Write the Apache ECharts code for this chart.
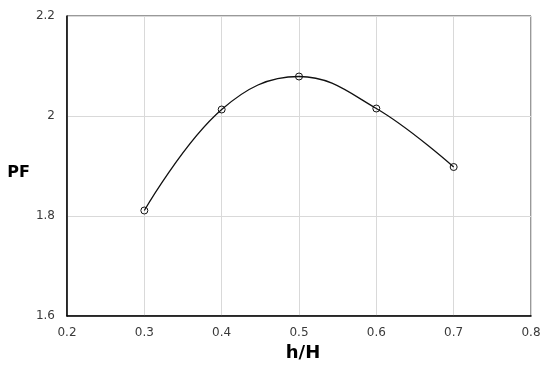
<!DOCTYPE html>
<html lang="en">

<head>
  <meta charset="UTF-8">
  <title>PF vs h/H</title>
  <script src="https://cdn.jsdelivr.net/npm/echarts@6/dist/echarts.min.js"></script>
</head>

<body style="margin: 0">
  <div id="main" style="width: 550px; height: 369px"></div>

  <script>
    let hH = [0.3, 0.4, 0.5, 0.6, 0.7]
    let pf = [1.811, 2.013, 2.079, 2.015, 1.898]

    let myChart = echarts.init(document.getElementById('main'))
    let labelStyle = { color: '#3a3a3a', fontSize: 12, fontFamily: 'DejaVu Sans' }

    let option = {
      animation: false,
      grid: {
        left: 67, right: 19, top: 16, bottom: 53,
        show: true, borderColor: '#333', borderWidth: 1
      },
      xAxis: {
        type: 'value',
        min: 0.2, max: 0.8, interval: 0.1,
        name: 'h/H',
        nameLocation: 'middle',
        nameGap: 27,
        nameTextStyle: { color: '#000', fontSize: 18, fontWeight: 'bold', fontFamily: 'DejaVu Sans', padding: [0, 0, 0, 8] },
        axisLine: { show: true, lineStyle: { color: '#000', width: 1.5 } },
        axisTick: { show: false },
        axisLabel: Object.assign({ margin: 11, formatter: v => +v.toFixed(1) }, labelStyle),
        splitLine: { lineStyle: { color: '#d9d9d9', width: 1 } }
      },
      yAxis: {
        type: 'value',
        min: 1.6, max: 2.2, interval: 0.2,
        name: 'PF',
        nameLocation: 'middle',
        nameRotate: 0,
        nameGap: 33,
        // push the name a little below the axis middle like the original
        nameTextStyle: { color: '#000', fontSize: 16, fontWeight: 'bold', fontFamily: 'DejaVu Sans', verticalAlign: 'top', lineHeight: 14 },
        axisLine: { show: true, lineStyle: { color: '#000', width: 1.5 } },
        axisTick: { show: false },
        axisLabel: Object.assign({ margin: 12, formatter: v => +v.toFixed(1) }, labelStyle),
        splitLine: { lineStyle: { color: '#d9d9d9', width: 1 } }
      },
      series: [{
        type: 'line',
        data: hH.map((x, i) => [x, pf[i]]),
        smooth: 0.4,
        symbol: 'circle',
        symbolSize: 7,
        lineStyle: { color: '#111', width: 1.3 },
        itemStyle: { color: 'rgba(0,0,0,0)', borderColor: '#111', borderWidth: 1 }
      }]
    }
    myChart.setOption(option)
  </script>
</body>

</html>
